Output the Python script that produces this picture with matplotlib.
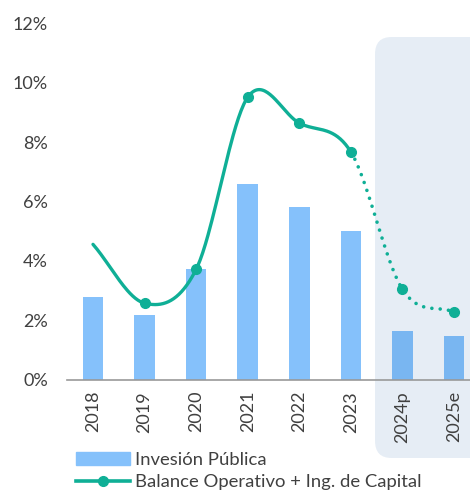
import numpy as np
import matplotlib.pyplot as plt
from matplotlib.patches import FancyBboxPatch
from matplotlib.lines import Line2D
from matplotlib.ticker import FuncFormatter

plt.rcParams['font.family'] = ['Lato', 'DejaVu Sans']

years = ['2018', '2019', '2020', '2021', '2022', '2023', '2024p', '2025e']
inversion = [2.78, 2.17, 3.72, 6.59, 5.83, 5.0, 1.65, 1.47]
balance = [4.56, 2.58, 3.72, 9.51, 8.64, 7.67, 3.05, 2.28]

bar_color = '#85C1FB'
line_color = '#0FAF96'
text_color = '#404040'


def catmull_rom(x, y, n=40):
    # smooth curve through the points (like a spreadsheet "smoothed line")
    x = np.asarray(x, float)
    y = np.asarray(y, float)
    px = np.concatenate([[2 * x[0] - x[1]], x, [2 * x[-1] - x[-2]]])
    py = np.concatenate([[2 * y[0] - y[1]], y, [2 * y[-1] - y[-2]]])
    segs = []
    t = np.linspace(0, 1, n)
    for i in range(1, len(px) - 2):
        sx = []
        for p in (px, py):
            p0, p1, p2, p3 = p[i - 1], p[i], p[i + 1], p[i + 2]
            sx.append(0.5 * ((2 * p1) + (-p0 + p2) * t
                             + (2 * p0 - 5 * p1 + 4 * p2 - p3) * t ** 2
                             + (-p0 + 3 * p1 - 3 * p2 + p3) * t ** 3))
        segs.append(sx)
    return segs


fig = plt.figure(figsize=(4.7, 4.94), dpi=100)
ax = fig.add_axes([0.143, 0.231, 0.857, 0.722])
ax.set_facecolor('none')

x = np.arange(len(years))
ax.bar(x, inversion, width=0.4, color=bar_color, zorder=1)

segs = catmull_rom(x, balance)
n_solid = 5  # segments 2018 -> 2023 solid
sx = np.concatenate([s[0] for s in segs[:n_solid]])
sy = np.concatenate([s[1] for s in segs[:n_solid]])
dx = np.concatenate([s[0] for s in segs[n_solid:]])
dy = np.concatenate([s[1] for s in segs[n_solid:]])
ax.plot(sx, sy, color=line_color, lw=2.4, solid_capstyle='round', zorder=3)
ax.plot(dx, dy, color=line_color, lw=2.6, linestyle=(0, (0.01, 2.3)),
        dash_capstyle='round', zorder=3)
ax.plot(x[1:], balance[1:], 'o', color=line_color, ms=7, zorder=4)

# shaded forecast box
box = FancyBboxPatch((375 / 470, 1 - 458 / 494), 0.25, (458 - 37) / 494,
                     boxstyle='round,pad=0,rounding_size=0.035',
                     transform=fig.transFigure, facecolor='#1F5FA8',
                     alpha=0.11, edgecolor='none', clip_on=False, zorder=1.5)
ax.add_patch(box)

ax.set_xlim(-0.5, 7.31)
ax.set_ylim(0, 12)
ax.set_yticks(np.arange(0, 13, 2))
ax.yaxis.set_major_formatter(FuncFormatter(lambda v, p: f'{v:.0f}%'))
ax.set_xticks(x)
ax.set_xticklabels(years, rotation=90)
ax.tick_params(length=0, labelsize=13, labelcolor=text_color)
ax.tick_params(axis='y', pad=14)
ax.tick_params(axis='x', pad=8)
for s in ['top', 'right', 'left']:
    ax.spines[s].set_visible(False)
ax.spines['bottom'].set_color('#999999')
ax.spines['bottom'].set_linewidth(1.2)

handles = [plt.Rectangle((0, 0), 1, 1, color=bar_color),
           Line2D([], [], color=line_color, lw=2.6, marker='o', ms=7)]
fig.legend(handles, ['Invesión Pública', 'Balance Operativo + Ing. de Capital'],
           loc='upper left', bbox_to_anchor=(0.162, 0.085), frameon=False,
           fontsize=13.3, handlelength=2.9, handletextpad=0.3, labelspacing=0.35,
           labelcolor=text_color, borderaxespad=0, borderpad=0)

fig.savefig('out.png', dpi=100)
